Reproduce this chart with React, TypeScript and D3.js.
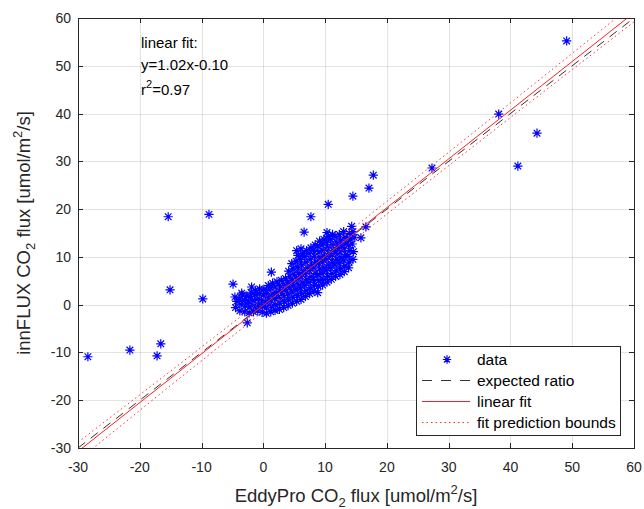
import React from 'react'
import * as d3 from 'd3'

// axis setup
const xTicks = [-30, -20, -10, 0, 10, 20, 30, 40, 50, 60]
const yTicks = [-30, -20, -10, 0, 10, 20, 30, 40, 50, 60]

// scattered points away from the main cloud
const outliers: [number, number][] = [
  [-28.4, -10.9], [-21.6, -9.5], [-17.2, -10.7], [-16.6, -8.2], [-15.1, 3.1], [-9.8, 1.2],
  [-15.4, 18.4], [-8.8, 18.9], [-4.9, 4.3], [-3.5, 2.4], [-1.9, 3.7], [-2.6, -3.8],
  [1.3, 6.8], [6.6, 15.2], [7.7, 18.4], [10.5, 21.0], [14.5, 22.7], [17.1, 24.4],
  [17.8, 27.1], [14.3, 16.4], [16.6, 16.3], [15.8, 14.0], [8.8, 2.5], [27.3, 28.6],
  [38.1, 39.9], [41.2, 29.0], [44.3, 35.9], [49.1, 55.2],
]

// dense cloud around the 1:1 line
const cloud: [number, number][] = [
  [-4.5, -0.6], [-4.3, 0.7], [-4.6, 1.6], [-3.8, -1.3], [-3.6, 0.1], [-3.9, 1.2], [-3.4, 2.0],
  [-3.0, -1.5], [-2.9, -0.3], [-3.1, 0.9], [-2.7, 1.8],
  [-2.3, -1.7], [-2.2, -0.5], [-2.4, 0.6], [-2.1, 1.7], [-2.0, 2.6],
  [-1.6, -1.5], [-1.5, -0.3], [-1.7, 0.9], [-1.4, 2.1], [-1.3, 3.0],
  [-0.9, -1.3], [-0.8, -0.1], [-1.0, 1.1], [-0.7, 2.3], [-0.6, 3.3],
  [-0.2, -1.6], [-0.1, -0.4], [-0.3, 0.9], [0.0, 2.0], [0.1, 3.2],
  [0.5, -1.8], [0.6, -0.6], [0.4, 0.6], [0.7, 1.8], [0.5, 3.0], [0.8, 4.0],
  [1.2, -1.5], [1.3, -0.2], [1.1, 1.0], [1.4, 2.3], [1.2, 3.5], [1.5, 4.5],
  [1.9, -1.2], [2.0, 0.0], [1.8, 1.3], [2.1, 2.5], [1.9, 3.7], [2.2, 4.8],
  [2.6, -1.0], [2.7, 0.3], [2.5, 1.5], [2.8, 2.8], [2.6, 4.0], [2.9, 5.1],
  [3.3, -0.6], [3.4, 0.7], [3.2, 1.9], [3.5, 3.1], [3.3, 4.3], [3.6, 5.5],
  [4.0, -0.2], [4.1, 1.0], [3.9, 2.3], [4.2, 3.5], [4.0, 4.7], [4.3, 5.9], [4.1, 7.0],
  [4.7, 0.3], [4.8, 1.5], [4.6, 2.7], [4.9, 3.9], [4.7, 5.1], [5.0, 6.3], [4.8, 7.5], [4.6, 8.6],
  [5.4, 0.7], [5.5, 1.9], [5.3, 3.1], [5.6, 4.3], [5.4, 5.5], [5.7, 6.7], [5.5, 7.9], [5.3, 9.1], [5.6, 10.3], [5.4, 11.3],
  [6.1, 1.1], [6.2, 2.3], [6.0, 3.5], [6.3, 4.7], [6.1, 5.9], [6.4, 7.1], [6.2, 8.3], [6.0, 9.5], [6.3, 10.7], [6.1, 11.7],
  [6.8, 1.7], [6.9, 2.9], [6.7, 4.1], [7.0, 5.3], [6.8, 6.5], [7.1, 7.7], [6.9, 8.9], [6.7, 10.1], [7.0, 11.3],
  [7.5, 2.3], [7.6, 3.5], [7.4, 4.7], [7.7, 5.9], [7.5, 7.1], [7.8, 8.3], [7.6, 9.5], [7.4, 10.7], [7.7, 11.9],
  [8.2, 2.9], [8.3, 4.1], [8.1, 5.3], [8.4, 6.5], [8.2, 7.7], [8.5, 8.9], [8.3, 10.1], [8.1, 11.3], [8.4, 12.5],
  [8.9, 3.9], [9.0, 5.1], [8.8, 6.3], [9.1, 7.5], [8.9, 8.7], [9.2, 9.9], [9.0, 11.1], [8.8, 12.3], [9.1, 13.3],
  [9.6, 4.1], [9.7, 5.3], [9.5, 6.5], [9.8, 7.7], [9.6, 8.9], [9.9, 10.1], [9.7, 11.3], [9.5, 12.5], [9.8, 13.7],
  [10.3, 4.7], [10.4, 5.9], [10.2, 7.1], [10.5, 8.3], [10.3, 9.5], [10.6, 10.7], [10.4, 11.9], [10.2, 13.1], [10.5, 14.3], [10.3, 15.1],
  [11.0, 5.3], [11.1, 6.5], [10.9, 7.7], [11.2, 8.9], [11.0, 10.1], [11.3, 11.3], [11.1, 12.5], [10.9, 13.7], [11.2, 14.7],
  [11.7, 5.9], [11.8, 7.1], [11.6, 8.3], [11.9, 9.5], [11.7, 10.7], [12.0, 11.9], [11.8, 13.1], [11.6, 14.3],
  [12.4, 6.3], [12.5, 7.5], [12.3, 8.7], [12.6, 9.9], [12.4, 11.1], [12.7, 12.3], [12.5, 13.5], [12.3, 14.7],
  [13.1, 6.9], [13.2, 8.1], [13.0, 9.3], [13.3, 10.5], [13.1, 11.7], [13.4, 12.9], [13.2, 14.1], [13.0, 15.3],
  [13.8, 7.7], [13.9, 8.9], [13.7, 10.1], [14.0, 11.3], [13.8, 12.5], [14.1, 13.7], [13.9, 14.9],
  [14.5, 9.5], [14.6, 11.1], [14.4, 12.7], [14.7, 14.1], [14.5, 15.3],
]

// expected 1:1 ratio
const ratioX = [-30, 60]
const ratioY = [-30, 60]

// linear fit y = 1.02x - 0.10 and its prediction bounds
const fitX = [-30, -15, 0, 15, 30, 45, 60]
const fitY = [-30.7, -15.4, -0.1, 15.2, 30.5, 45.8, 61.1]
const upperY = [-28.8, -13.9, 1.2, 16.5, 31.9, 47.4, 63.0]
const lowerY = [-32.6, -16.9, -1.4, 13.9, 29.1, 44.2, 59.2]

const legendItems = ['data', 'expected ratio', 'linear fit', 'fit prediction bounds']

const W = 644
const H = 509
const m = { left: 78, right: 10, top: 18, bottom: 61 }
const FONT = '"Liberation Sans", Arial, Helvetica, sans-serif'
const AX = '#262626'

function Star({ x, y, s = 4.6 }: { x: number; y: number; s?: number }) {
  const d = s * 0.72
  return (
    <path
      d={`M${x - s},${y}H${x + s}M${x},${y - s}V${y + s}M${x - d},${y - d}L${x + d},${y + d}M${x - d},${y + d}L${x + d},${y - d}`}
      stroke='#0000ff'
      strokeWidth={1.2}
      fill='none'
    />
  )
}

export default function App() {
  const x = d3.scaleLinear().domain([-30, 60]).range([m.left, W - m.right])
  const y = d3.scaleLinear().domain([-30, 60]).range([H - m.bottom, m.top])
  const x0 = x.range()[0], x1 = x.range()[1]
  const y0 = y.range()[0], y1 = y.range()[1]
  const px = (v: number) => Math.round(v) + 0.5

  const line = d3.line<[number, number]>().x(d => x(d[0])).y(d => y(d[1]))
  const ratioPath = line(ratioX.map((v, i) => [v, ratioY[i]]))!
  const fitPath = line(fitX.map((v, i) => [v, fitY[i]]))!
  const upPath = line(fitX.map((v, i) => [v, upperY[i]]))!
  const loPath = line(fitX.map((v, i) => [v, lowerY[i]]))!

  const points = [...cloud, ...outliers]

  // legend box
  const lg = { x: 416.5, y: 346.5, w: 204, h: 89 }
  const rowY = (i: number) => px(lg.y + 12 + i * 21.3)

  return (
    <svg width={W} height={H} style={{ position: 'absolute', left: 0, top: 0, background: '#fff' }} fontFamily={FONT}>
      <defs>
        <clipPath id='plot'>
          <rect x={x0} y={y1} width={x1 - x0} height={y0 - y1} />
        </clipPath>
      </defs>
      <rect x={x0} y={y1} width={x1 - x0} height={y0 - y1} fill='#fff' />

      {/* grid */}
      <g stroke='#262626' strokeOpacity={0.13} strokeWidth={1}>
        {xTicks.slice(1, -1).map(t => (
          <line key={'gx' + t} x1={px(x(t))} x2={px(x(t))} y1={y1} y2={y0} />
        ))}
        {yTicks.slice(1, -1).map(t => (
          <line key={'gy' + t} x1={x0} x2={x1} y1={px(y(t))} y2={px(y(t))} />
        ))}
      </g>

      {/* data */}
      <g clipPath='url(#plot)'>
        {points.map((p, i) => (
          <Star key={i} x={x(p[0])} y={y(p[1])} />
        ))}
        <path d={ratioPath} stroke='#333' strokeWidth={1} strokeDasharray='9,7' fill='none' />
        <path d={fitPath} stroke='#ff2020' strokeWidth={1} fill='none' />
        <path d={upPath} stroke='#ff3030' strokeWidth={1} strokeDasharray='1.5,3' fill='none' />
        <path d={loPath} stroke='#ff3030' strokeWidth={1} strokeDasharray='1.5,3' fill='none' />
      </g>

      {/* box and ticks */}
      <rect x={px(x0)} y={px(y1)} width={Math.round(x1 - x0)} height={Math.round(y0 - y1)} fill='none' stroke={AX} strokeWidth={1} />
      <g stroke={AX} strokeWidth={1}>
        {xTicks.map(t => (
          <g key={'tx' + t}>
            <line x1={px(x(t))} x2={px(x(t))} y1={y0} y2={y0 - 5} />
            <line x1={px(x(t))} x2={px(x(t))} y1={y1} y2={y1 + 5} />
          </g>
        ))}
        {yTicks.map(t => (
          <g key={'ty' + t}>
            <line x1={x0} x2={x0 + 5} y1={px(y(t))} y2={px(y(t))} />
            <line x1={x1} x2={x1 - 5} y1={px(y(t))} y2={px(y(t))} />
          </g>
        ))}
      </g>
      <g fill={AX} fontSize={14}>
        {xTicks.map(t => (
          <text key={'lx' + t} x={x(t)} y={y0 + 24} textAnchor='middle'>{t}</text>
        ))}
        {yTicks.map(t => (
          <text key={'ly' + t} x={x0 - 7} y={y(t) + 5} textAnchor='end'>{t}</text>
        ))}
      </g>

      {/* axis labels */}
      <text x={(x0 + x1) / 2} y={502} textAnchor='middle' fontSize={18.5} fill={AX}>
        EddyPro CO<tspan fontSize={13} dy={5}>2</tspan>
        <tspan dy={-5}> flux [umol/m</tspan>
        <tspan fontSize={13} dy={-8}>2</tspan>
        <tspan dy={8}>/s]</tspan>
      </text>
      <text transform={`translate(30,${(y0 + y1) / 2}) rotate(-90)`} textAnchor='middle' fontSize={18.5} fill={AX}>
        innFLUX CO<tspan fontSize={13} dy={5}>2</tspan>
        <tspan dy={-5}> flux [umol/m</tspan>
        <tspan fontSize={13} dy={-8}>2</tspan>
        <tspan dy={8}>/s]</tspan>
      </text>

      {/* fit annotation */}
      <g fontSize={15} fill='#000'>
        <text x={141} y={48}>linear fit:</text>
        <text x={141} y={70}>y=1.02x-0.10</text>
        <text x={141} y={95}>
          r<tspan fontSize={11} dy={-7}>2</tspan>
          <tspan dy={7}>=0.97</tspan>
        </text>
      </g>

      {/* legend */}
      <rect x={lg.x} y={lg.y} width={lg.w} height={lg.h} fill='#fff' stroke={AX} strokeWidth={1} />
      <Star x={447} y={rowY(0)} s={4.2} />
      <line x1={422} x2={470} y1={rowY(1)} y2={rowY(1)} stroke='#333' strokeWidth={1} strokeDasharray='10,9' />
      <line x1={422} x2={470} y1={rowY(2)} y2={rowY(2)} stroke='#ff2020' strokeWidth={1} />
      <line x1={422} x2={470} y1={rowY(3)} y2={rowY(3)} stroke='#ff3030' strokeWidth={1} strokeDasharray='1.5,3' />
      <g fontSize={15.5} fill='#000'>
        {legendItems.map((t, i) => (
          <text key={t} x={477} y={rowY(i) + 5}>{t}</text>
        ))}
      </g>
    </svg>
  )
}
